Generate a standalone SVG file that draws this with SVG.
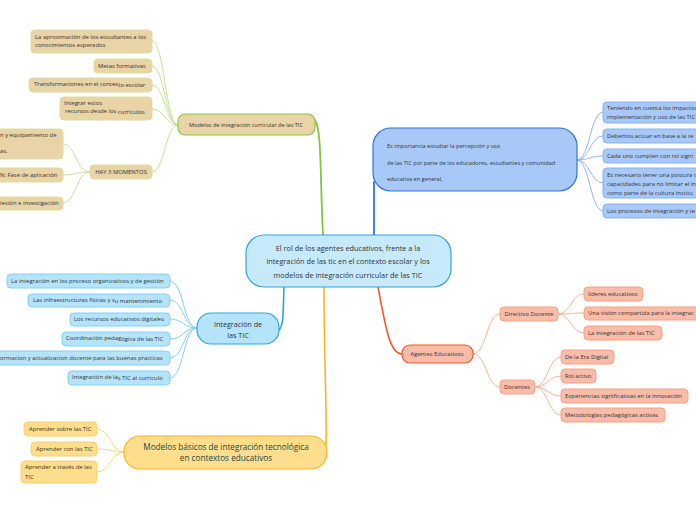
<svg xmlns="http://www.w3.org/2000/svg" width="696" height="520" viewBox="0 0 696 520">
<style>
text{font-family:"Open Sans","Noto Sans",sans-serif;fill:#333;font-size:5.9px}
.c{fill:none;stroke-linecap:round}
.g{stroke:#c7e29a;stroke-width:1}
.b{stroke:#8fb8f2;stroke-width:1}
.lb{stroke:#86d0f2;stroke-width:1}
.o{stroke:#f8b49a;stroke-width:1}
.y{stroke:#fcd582;stroke-width:1}
.gl{fill:#e8d4a6;stroke:#dcdca0;stroke-width:1}
.bl{fill:#a8c9f8;stroke:#86b2f0;stroke-width:1}
.ll{fill:#b5e3f9;stroke:#86d0f2;stroke-width:1}
.ol{fill:#f8bca8;stroke:#f6a185;stroke-width:1}
.yl{fill:#fedd8c;stroke:#fcd06c;stroke-width:1}
.m{text-anchor:middle}
.ct{font-size:7.3px}
.nt{font-size:5.6px}
</style>
<g id="connectors">
<path class="c" d="M323,235 C320,180 322,130 315,120" stroke="#86c440" stroke-width="1.8"/>
<path class="c" d="M374,235 C374,215 374,200 374,182" stroke="#2f74dc" stroke-width="1.8"/>
<path class="c" d="M284,287 C283,310 284,325 279,330" stroke="#2aa7e1" stroke-width="1.6"/>
<path class="c" d="M378,287 C386,330 390,354 402,354" stroke="#f0582a" stroke-width="1.6"/>
<path class="c" d="M324,287 C324,350 327,420 326,445" stroke="#f9b526" stroke-width="1.6"/>
<path class="c g" d="M178,125 C165,125 165,41 152,41"/>
<path class="c g" d="M178,125 C165,125 165,66 152,66"/>
<path class="c g" d="M178,125 C165,125 165,85 152,85"/>
<path class="c g" d="M178,125 C165,125 165,109 152,109"/>
<path class="c g" d="M178,125 C165,125 165,172 152,172"/>
<path class="c g" d="M90,172 C76,172 76,144 63,144"/>
<path class="c g" d="M90,172 C76,172 76,175 63,175"/>
<path class="c g" d="M90,172 C76,172 76,203 63,203"/>
<path class="c b" d="M577,160 C590,160 590,112 603,112"/>
<path class="c b" d="M577,160 C590,160 590,136 603,136"/>
<path class="c b" d="M577,160 C590,160 590,156 603,156"/>
<path class="c b" d="M577,160 C590,160 590,183 603,183"/>
<path class="c b" d="M577,160 C590,160 590,211 603,211"/>
<path class="c lb" d="M197,328 C183,328 184,281 170,281"/>
<path class="c lb" d="M197,328 C183,328 184,300 170,300"/>
<path class="c lb" d="M197,328 C183,328 184,319 170,319"/>
<path class="c lb" d="M197,328 C183,328 184,339 170,339"/>
<path class="c lb" d="M197,328 C183,328 184,358 170,358"/>
<path class="c lb" d="M197,328 C183,328 184,378 170,378"/>
<path class="c o" d="M473,354 C487,354 486,314 500,314"/>
<path class="c o" d="M473,354 C487,354 486,387 500,387"/>
<path class="c o" d="M558,314 C571,314 571,294 584,294"/>
<path class="c o" d="M558,314 C571,314 571,313 584,313"/>
<path class="c o" d="M558,314 C571,314 571,333 584,333"/>
<path class="c o" d="M535,387 C548,387 548,357 561,357"/>
<path class="c o" d="M535,387 C548,387 548,376 561,376"/>
<path class="c o" d="M535,387 C548,387 548,396 561,396"/>
<path class="c o" d="M535,387 C548,387 548,415 561,415"/>
<path class="c y" d="M124,452 C110,452 111,429 97,429"/>
<path class="c y" d="M124,452 C110,452 111,449 97,449"/>
<path class="c y" d="M124,452 C110,452 111,472 97,472"/>
</g>
<g id="center">
<rect x="246" y="235" width="205" height="52" rx="18" fill="#c7eafb" stroke="#3aa0de" stroke-width="1.2"/>
<text class="m ct" x="348" y="251">El rol de los agentes educativos, frente a la</text>
<text class="m ct" x="348" y="264">integración de las tic en el contexto escolar  y los</text>
<text class="m ct" x="348" y="278">modelos de integración curricular de las TIC</text>
</g>
<g id="n-curricular">
<rect x="178" y="114" width="137" height="21" rx="7" fill="#e8d4a6" stroke="#8cc63f" stroke-width="1.2"/>
<text class="m nt" x="246" y="127">Modelos de integración curricular de las TIC</text>
</g>
<g id="g1"><rect class="gl" x="31" y="30" width="121" height="23" rx="4"/><text x="35" y="39">La aproximación de los estudiantes a los</text><text x="35" y="47">conocimientos esperados</text></g>
<g id="g2"><rect class="gl" x="94" y="59" width="58" height="14" rx="4"/><text x="98" y="68">Metas formativas</text></g>
<g id="g3"><rect class="gl" x="29" y="78" width="123" height="14" rx="4"/><text x="34" y="86">Transformaciones en el contex<tspan dy="1">to escolar</tspan></text></g>
<g id="g4"><rect class="gl" x="60" y="97" width="92" height="23" rx="4"/><text x="64" y="105">Integrar estos</text><text x="65" y="113"> recursos desde los <tspan dy="1">currículos</tspan></text></g>
<g id="hay3"><rect class="gl" x="90" y="165" width="62" height="14" rx="4"/><text class="m" x="121" y="174">HAY 3 MOMENTOS</text></g>
<g id="h1"><rect class="gl" x="-10" y="129" width="73" height="30" rx="4"/><text x="0" y="137">n y equipamiento de</text><text x="0" y="153">as.</text></g>
<g id="h2"><rect class="gl" x="-10" y="168" width="73" height="14" rx="4"/><text x="0" y="177">N: Fase de aplicación</text></g>
<g id="h3"><rect class="gl" x="-10" y="197" width="73" height="13" rx="4"/><text x="0" y="205">lexión e investigación</text></g>
<g id="n-importancia">
<rect x="373" y="128" width="204" height="63" rx="18" fill="#a8c9f8" stroke="#2f74dc" stroke-width="1.2"/>
<text class="nt" x="387" y="148">Es importancia estudiar la percepción y uso</text>
<text class="nt" x="387" y="165">de las TIC por parte de los educadores, estudiantes y comunidad</text>
<text class="nt" x="387" y="181">educativa en general,</text>
</g>
<g id="b1"><rect class="bl" x="603" y="102" width="110" height="21" rx="4"/><text x="607" y="110">Teniendo en cuenta los impactos</text><text x="607" y="119">implementación y uso de las TIC</text></g>
<g id="b2"><rect class="bl" x="603" y="129" width="110" height="14" rx="4"/><text x="607" y="138">Debemos actuar en base a la te</text></g>
<g id="b3"><rect class="bl" x="603" y="149" width="110" height="14" rx="4"/><text x="607" y="158">Cada uno cumplen con rol signi</text></g>
<g id="b4"><rect class="bl" x="603" y="168" width="110" height="30" rx="4"/><text x="607" y="177">Es necesario tener una postura c</text><text x="607" y="186">capacidades para no limitar el in</text><text x="607" y="195">como parte de la cultura institu</text></g>
<g id="b5"><rect class="bl" x="603" y="204" width="110" height="14" rx="4"/><text x="607" y="213">Los procesos de integración y te</text></g>
<g id="n-integracion">
<rect x="197" y="313" width="82" height="31" rx="14" fill="#b5e3f9" stroke="#2aa7e1" stroke-width="1.2"/>
<text class="m" x="238" y="327" style="font-size:7.2px">Integración de</text>
<text class="m" x="238" y="338" style="font-size:7.2px">las TIC</text>
</g>
<g id="i1"><rect class="ll" x="7" y="274" width="163" height="14" rx="4"/><text x="11" y="283">La integración en los proceso organizativos y de gestión</text></g>
<g id="i2"><rect class="ll" x="28" y="294" width="142" height="13" rx="4"/><text x="33" y="302">Las infraestructuras físicas  y s<tspan dy="1">u mantenimiento</tspan></text></g>
<g id="i3"><rect class="ll" x="70" y="313" width="100" height="13" rx="4"/><text x="74" y="321">Los recursos educativos digitales</text></g>
<g id="i4"><rect class="ll" x="62" y="332" width="108" height="14" rx="4"/><text x="66" y="340">Coordinación pedag<tspan dy="1">ógica de las TIC</tspan></text></g>
<g id="i5"><rect class="ll" x="-10" y="351" width="180" height="14" rx="4"/><text x="0" y="360">ormacion y actualizacion docente para las buenas practicas</text></g>
<g id="i6"><rect class="ll" x="68" y="371" width="102" height="14" rx="4"/><text x="72" y="379">Integración de la<tspan dy="1">s TIC al curriculo</tspan></text></g>
<g id="n-agentes">
<rect x="402" y="345" width="71" height="18" rx="8" fill="#f8bca8" stroke="#f0582a" stroke-width="1.2"/>
<text class="m" x="437" y="356">Agentes Educativos</text>
</g>
<g id="a1"><rect class="ol" x="500" y="307" width="58" height="14" rx="4"/><text class="m" x="529" y="316">Directivo Docente</text></g>
<g id="a2"><rect class="ol" x="500" y="380" width="35" height="14" rx="4"/><text x="504" y="389">Docentes</text></g>
<g id="d1"><rect class="ol" x="584" y="287" width="59" height="14" rx="4"/><text x="588" y="296">líderes educativos</text></g>
<g id="d2"><rect class="ol" x="584" y="307" width="130" height="13" rx="4"/><text x="588" y="315">Una visión compartida para la integrac</text></g>
<g id="d3"><rect class="ol" x="584" y="326" width="78" height="14" rx="4"/><text x="588" y="335">La integración de las TIC</text></g>
<g id="e1"><rect class="ol" x="561" y="350" width="53" height="14" rx="4"/><text x="565" y="359">De la Era Digital</text></g>
<g id="e2"><rect class="ol" x="561" y="369" width="35" height="14" rx="4"/><text x="565" y="378">Rol activo</text></g>
<g id="e3"><rect class="ol" x="561" y="389" width="127" height="14" rx="4"/><text x="565" y="398">Experiencias significativas en la innovación</text></g>
<g id="e4"><rect class="ol" x="561" y="408" width="104" height="14" rx="4"/><text x="565" y="417">Metodologías pedagógicas activas</text></g>
<g id="n-basicos">
<rect x="124" y="436" width="203" height="33" rx="16" fill="#fedd8c" stroke="#f9b526" stroke-width="1.2"/>
<text class="m" x="226" y="450" style="font-size:8.2px;fill:#1d4a3c;font-weight:500">Modelos básicos de integración tecnológica</text>
<text class="m" x="226" y="461" style="font-size:8.2px;fill:#1d4a3c;font-weight:500">en contextos educativos</text>
</g>
<g id="y1"><rect class="yl" x="24" y="422" width="73" height="14" rx="4"/><text x="29" y="431">Aprender sobre las TIC</text></g>
<g id="y2"><rect class="yl" x="31" y="442" width="66" height="14" rx="4"/><text x="36" y="451">Aprender con las TIC</text></g>
<g id="y3"><rect class="yl" x="21" y="461" width="76" height="22" rx="4"/><text x="25" y="469">Aprender a través de las</text><text x="25" y="479">TIC</text></g>
</svg>
